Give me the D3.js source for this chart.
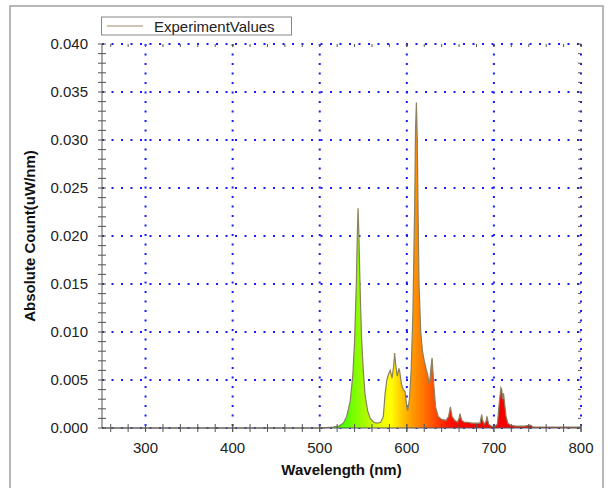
<!DOCTYPE html>
<html>
<head>
<meta charset="utf-8">
<script src="https://cdn.jsdelivr.net/npm/d3@7"></script>
<style>
  body { margin: 0; background: #fff; }
  text { font-family: "Liberation Sans", Arial, sans-serif; }
</style>
</head>
<body>
<div id="wrapper"></div>
<script>
// spectrum (nm, uW/nm)
const wavelengths = [250, 300, 350, 400, 450, 500, 515, 522, 527, 531, 535, 538, 540, 542, 543, 544, 545, 546, 547, 548,
  550, 552, 555, 558, 562, 566, 570, 573, 575, 577, 579, 581, 583, 585, 586, 587, 589, 591, 592, 594,
  596, 598, 600, 601, 603, 605, 607, 609, 610, 611, 612, 613, 614, 616, 618, 620, 622, 624, 626, 628,
  629, 631, 633, 636, 640, 645, 648, 650, 652, 655, 658, 660, 661, 663, 666, 670, 675, 680, 684, 686,
  687, 689, 691, 692, 694, 697, 700, 704, 706, 708, 709, 710, 711, 712, 714, 716, 719, 725, 735, 742,
  745, 750, 770, 800]
const counts = [0, 0, 0, 0, 0, 0, 0.0001, 0.0002, 0.0005, 0.0012, 0.0028, 0.0055, 0.009, 0.015, 0.0195, 0.0229, 0.02, 0.016, 0.0125, 0.0095,
  0.006, 0.0035, 0.0018, 0.001, 0.0006, 0.0005, 0.0006, 0.0012, 0.0035, 0.005, 0.0056, 0.006, 0.0052, 0.0065, 0.0078, 0.0068, 0.0054, 0.0062, 0.0058, 0.0045,
  0.004, 0.0038, 0.0022, 0.0018, 0.003, 0.006, 0.012, 0.023, 0.031, 0.0339, 0.03, 0.022, 0.015, 0.01, 0.008, 0.007, 0.0062, 0.0055, 0.0045, 0.0065,
  0.0073, 0.0045, 0.0022, 0.0012, 0.0009, 0.0008, 0.0012, 0.0022, 0.0012, 0.0008, 0.0006, 0.001, 0.0015, 0.0008, 0.0006, 0.0006, 0.0005, 0.0005, 0.0005, 0.0014,
  0.0008, 0.0004, 0.0007, 0.0012, 0.0004, 0.0002, 0.0001, 0.0004, 0.0025, 0.0042, 0.004, 0.003, 0.0036, 0.0028, 0.0012, 0.0005, 0.0003, 0.0002, 0.0002, 0.0003,
  0.0001, 0.0001, 0.0001, 0.0001]
const xTicks = [300, 400, 500, 600, 700, 800]
const yTicks = [0, 0.005, 0.01, 0.015, 0.02, 0.025, 0.03, 0.035, 0.04]
const seriesName = "ExperimentValues"

// fill colour along the wavelength axis
const colorStops = [
  [520, "#30ff00"], [540, "#7cff00"], [556, "#b8f800"], [572, "#f0ff00"], [582, "#ffff00"],
  [594, "#ffc800"], [606, "#ff9a00"], [618, "#ff7a00"], [632, "#ff4a00"], [648, "#ff1400"],
  [660, "#ff0000"], [730, "#f00000"]
]

const dataset = wavelengths.map((w, i) => ({ w: w, v: counts[i] }))

const dimensions = {
  width: 612,
  height: 488,
  margin: { top: 44, right: 31, bottom: 60, left: 102 }
}
dimensions.boundedWidth = dimensions.width - dimensions.margin.left - dimensions.margin.right
dimensions.boundedHeight = dimensions.height - dimensions.margin.top - dimensions.margin.bottom

const svg = d3.select("#wrapper").append("svg")
    .attr("width", dimensions.width)
    .attr("height", dimensions.height)

// outer frame
svg.append("rect")
    .attr("x", 10).attr("y", 6)
    .attr("width", 593).attr("height", 490)
    .attr("fill", "none")
    .attr("stroke", "#a0a0a0")
    .attr("stroke-width", 1.5)

const bounds = svg.append("g")
    .attr("transform", `translate(${dimensions.margin.left},${dimensions.margin.top})`)

const xScale = d3.scaleLinear()
    .domain([250, 800])
    .range([0, dimensions.boundedWidth])
const yScale = d3.scaleLinear()
    .domain([0, 0.04])
    .range([dimensions.boundedHeight, 0])

// gradient
const grad = svg.append("defs").append("linearGradient")
    .attr("id", "spec")
    .attr("gradientUnits", "userSpaceOnUse")
    .attr("x1", xScale(250)).attr("x2", xScale(800))
    .attr("y1", 0).attr("y2", 0)
grad.selectAll("stop")
  .data(colorStops)
  .join("stop")
    .attr("offset", d => (d[0] - 250) / 550)
    .attr("stop-color", d => d[1])

// grid
const gridColor = "#1a1aff"
bounds.append("g")
  .selectAll("line")
  .data(xTicks)
  .join("line")
    .attr("x1", d => xScale(d)).attr("x2", d => xScale(d))
    .attr("y1", 0).attr("y2", dimensions.boundedHeight)
    .attr("stroke", gridColor)
    .attr("stroke-width", 2)
    .attr("stroke-dasharray", "2,7.5")
bounds.append("g")
  .selectAll("line")
  .data(yTicks)
  .join("line")
    .attr("x1", 0).attr("x2", dimensions.boundedWidth)
    .attr("y1", d => yScale(d)).attr("y2", d => yScale(d))
    .attr("stroke", gridColor)
    .attr("stroke-width", 2)
    .attr("stroke-dasharray", "2,7.5")

// spectrum
const area = d3.area()
    .x(d => xScale(d.w))
    .y0(yScale(0))
    .y1(d => yScale(d.v))
const line = d3.line()
    .x(d => xScale(d.w))
    .y(d => yScale(d.v))

bounds.append("path")
    .datum(dataset)
    .attr("d", area)
    .attr("fill", "url(#spec)")
bounds.append("path")
    .datum(dataset)
    .attr("d", line)
    .attr("fill", "none")
    .attr("stroke", "#8c8060")
    .attr("stroke-width", 1.2)

// axes lines + ticks (crossing ticks on all four sides)
const axisColor = "#555"
const minorX = d3.range(260, 801, 20)
const minorY = d3.range(0, 0.04001, 0.001)

bounds.append("line")
    .attr("x1", 0).attr("x2", 0)
    .attr("y1", 0).attr("y2", dimensions.boundedHeight)
    .attr("stroke", axisColor)
bounds.append("line")
    .attr("x1", 0).attr("x2", dimensions.boundedWidth)
    .attr("y1", dimensions.boundedHeight).attr("y2", dimensions.boundedHeight)
    .attr("stroke", axisColor)

const tickG = bounds.append("g").attr("stroke", axisColor).attr("stroke-width", 1)
tickG.selectAll(".ty")
  .data(minorY)
  .join("line")
    .attr("x1", -4).attr("x2", 4)
    .attr("y1", d => yScale(d)).attr("y2", d => yScale(d))
tickG.selectAll(".tyr")
  .data(minorY)
  .join("line")
    .attr("x1", dimensions.boundedWidth - 3).attr("x2", dimensions.boundedWidth)
    .attr("y1", d => yScale(d)).attr("y2", d => yScale(d))
tickG.selectAll(".tx")
  .data(minorX.concat(xTicks))
  .join("line")
    .attr("x1", d => xScale(d)).attr("x2", d => xScale(d))
    .attr("y1", dimensions.boundedHeight - 4).attr("y2", dimensions.boundedHeight + 4)
tickG.selectAll(".txt")
  .data(minorX.concat(xTicks))
  .join("line")
    .attr("x1", d => xScale(d)).attr("x2", d => xScale(d))
    .attr("y1", 0).attr("y2", 3)

// tick labels
bounds.append("g")
  .selectAll("text")
  .data(yTicks)
  .join("text")
    .attr("x", -14)
    .attr("y", d => yScale(d) + 5)
    .attr("text-anchor", "end")
    .attr("fill", "#222")
    .style("font-size", "15px")
    .text(d3.format(".3f"))
bounds.append("g")
  .selectAll("text")
  .data(xTicks)
  .join("text")
    .attr("x", d => xScale(d))
    .attr("y", dimensions.boundedHeight + 25)
    .attr("text-anchor", "middle")
    .attr("fill", "#222")
    .style("font-size", "15px")
    .text(d => d)

// axis titles
bounds.append("text")
    .attr("x", dimensions.boundedWidth / 2)
    .attr("y", dimensions.boundedHeight + 47)
    .attr("text-anchor", "middle")
    .style("font-size", "15px")
    .style("font-weight", "bold")
    .attr("fill", "#111")
    .text("Wavelength (nm)")
svg.append("text")
    .attr("transform", "translate(35,236) rotate(-90)")
    .attr("text-anchor", "middle")
    .style("font-size", "15px")
    .style("font-weight", "bold")
    .attr("fill", "#111")
    .text("Absolute Count(uW/nm)")

// legend
const legend = svg.append("g")
legend.append("rect")
    .attr("x", 101.5).attr("y", 17)
    .attr("width", 190).attr("height", 18)
    .attr("fill", "#fff")
    .attr("stroke", "#888")
legend.append("line")
    .attr("x1", 107).attr("x2", 143)
    .attr("y1", 26).attr("y2", 26)
    .attr("stroke", "#a08a68")
    .attr("stroke-width", 1.2)
legend.append("text")
    .attr("x", 154).attr("y", 31.5)
    .style("font-size", "15px")
    .attr("fill", "#222")
    .text(seriesName)
</script>
</body>
</html>
